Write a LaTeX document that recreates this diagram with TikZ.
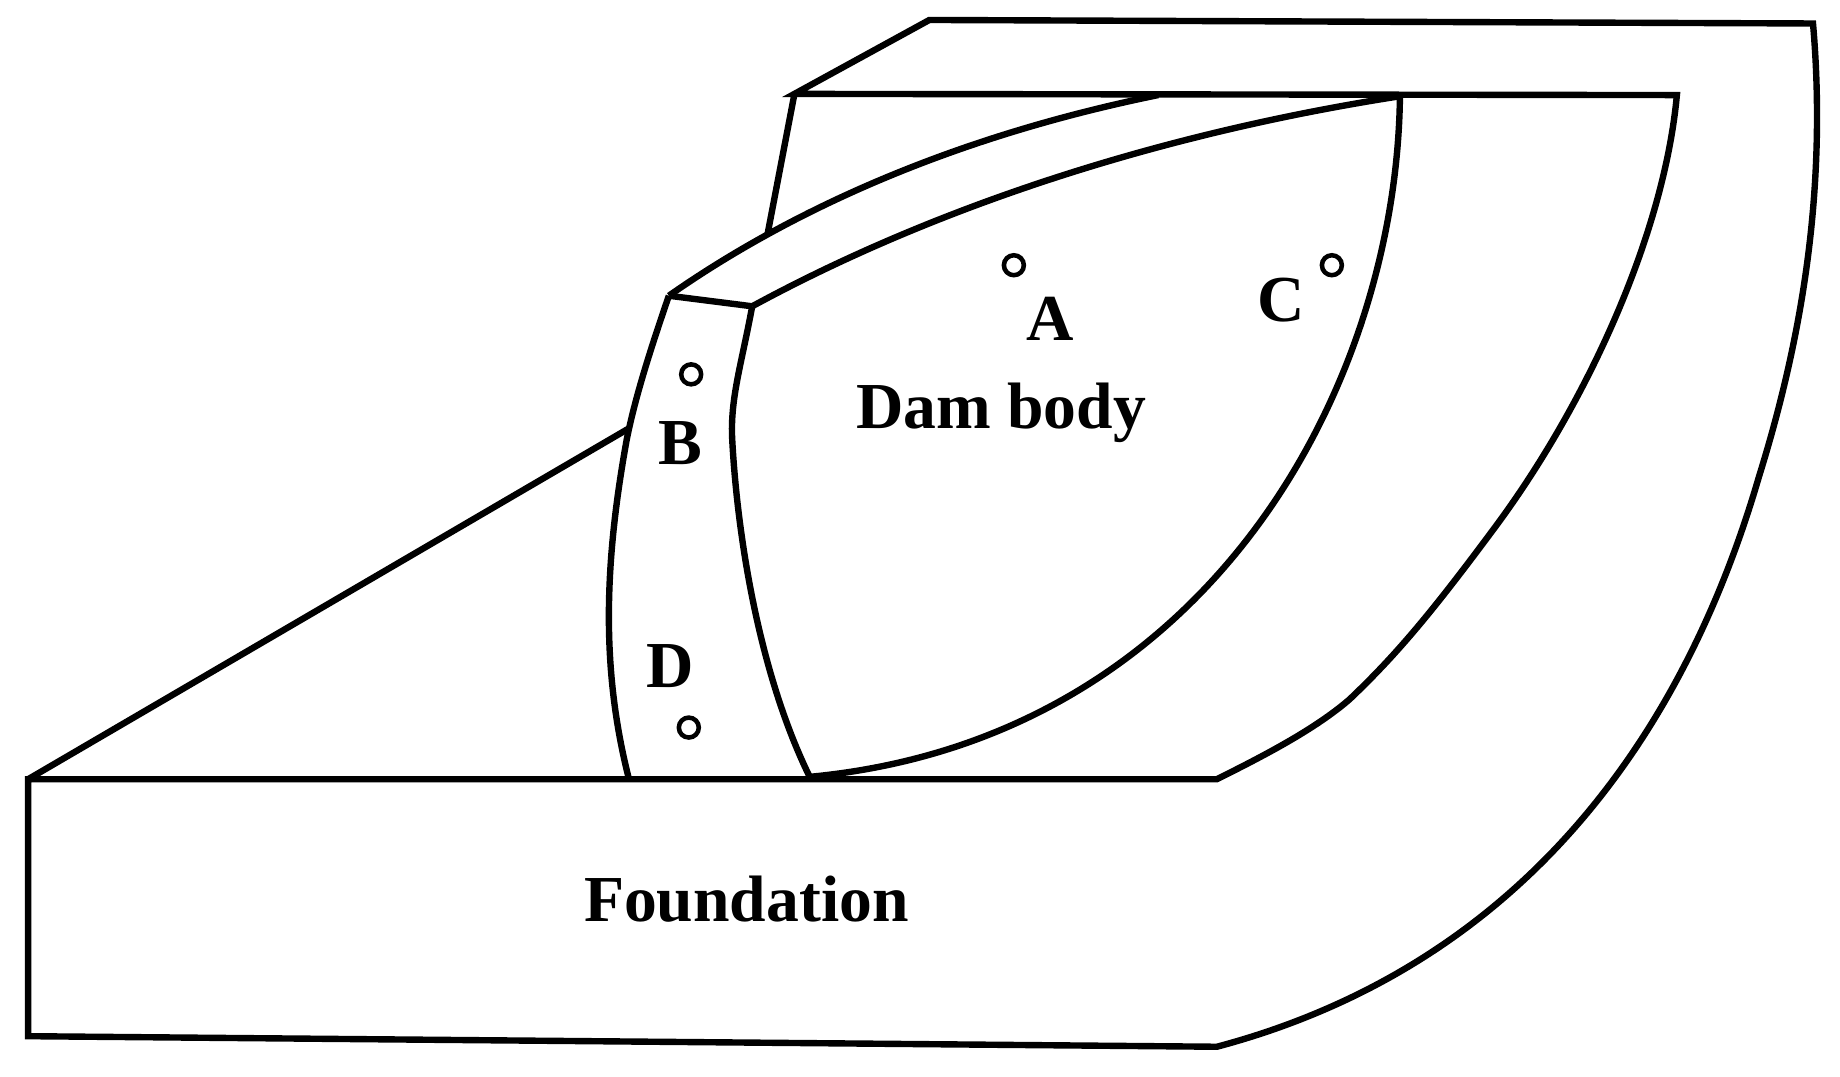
\documentclass[tikz,border=0pt]{standalone}
\usepackage{fontspec}
\setmainfont{Liberation Serif}
\usepackage{tikz}
\usetikzlibrary{positioning}
\begin{document}
\begin{tikzpicture}[x=0.01cm,y=-0.01cm]
 \tikzset{wall/.style={line width=1.55pt, line join=miter},
  point/.style={circle, draw, line width=1.1pt, fill=white, inner sep=0pt, minimum size=0.17cm},
  tag/.style={font=\fontsize{15.9}{18}\selectfont\bfseries, inner sep=0pt}};
  \useasboundingbox (0,0) rectangle (1568,917);
  % foundation
  \draw[wall] (24,664) -- (24,883) -- (1037,892) .. controls (1270,830) and (1425,660) .. (1499,406) .. controls (1532,300) and (1558,170) .. (1545,20) -- (792,17) -- (677,80) -- (1429,81) .. controls (1418,200) and (1352,345) .. (1272,452) .. controls (1220,522) and (1190,558) .. (1150,596) .. controls (1120,622) and (1075,645) .. (1037,664) -- cycle;
  \draw[wall] (677,80) -- (654,200);
  \draw[wall] (24,664) -- (536,365);
  % dam
  \draw[wall] (570,252) -- (641,261);
  \draw[wall] (570,252) .. controls (680,175) and (820,115) .. (987,81);
  \draw[wall] (641,261) .. controls (790,180) and (980,115) .. (1193,82);
  \draw[wall] (1193,82) .. controls (1190,330) and (1030,630) .. (690,662);
  \draw[wall] (641,261) .. controls (632,310) and (622,340) .. (624,375) .. controls (628,450) and (645,570) .. (690,662);
  \draw[wall] (570,252) .. controls (550,310) and (540,345) .. (534,375) .. controls (515,480) and (512,570) .. (536,664);
  % points and labels
  \node[point] (ptA) at (864,226) {};
  \node[point] (ptB) at (589,319) {};
  \node[point] (ptC) at (1135,226) {};
  \node[point] (ptD) at (587,620) {};
  \node[tag] (labA) at (895,272) {A};
  \node[tag] (labB) at (580,378) {B};
  \node[tag] (labC) at (1092,256) {C};
  \node[tag] (labD) at (571,568) {D};
  \node[tag] (body) at (853,352) {Dam body};
  \node[tag] (found) at (636,766) {Foundation};
\end{tikzpicture}
\end{document}
